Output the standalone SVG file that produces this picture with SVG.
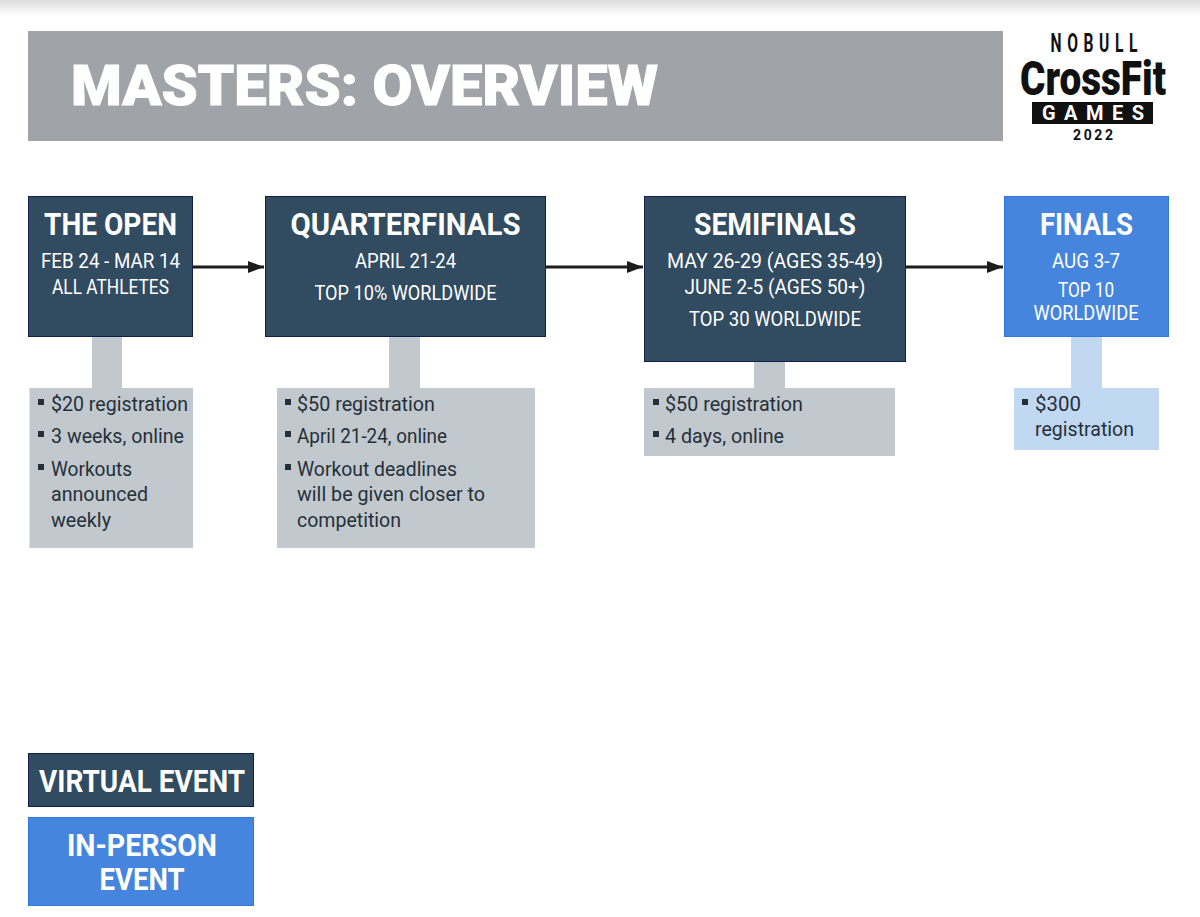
<svg xmlns="http://www.w3.org/2000/svg" width="1200" height="917" viewBox="0 0 1200 917">
<defs>
<linearGradient id="topfade" x1="0" y1="0" x2="0" y2="1"><stop offset="0" stop-color="#dcdcdc"/><stop offset="1" stop-color="#ffffff"/></linearGradient>
<marker id="arrow" markerUnits="userSpaceOnUse" markerWidth="17" markerHeight="12" refX="16" refY="6" orient="auto"><path d="M0 0L16 6L0 12Z" fill="#1c1c1c"/></marker>
</defs>
<style>
text{font-family:"Roboto","Liberation Sans",sans-serif}
.dark{fill:#314b60;stroke:#10204a;stroke-width:1}
.blue{fill:#4685de;stroke:#2f7ae0;stroke-width:1}
.grey{fill:#c1c8ce}
.lblue{fill:#c1d8f2}
.h{font-size:31px;font-weight:700;fill:#fff;text-anchor:middle}
.s{font-size:19.5px;fill:#fff;text-anchor:middle}
.b{font-size:19.5px;fill:#26303a}
.conn{stroke:#1c1c1c;stroke-width:3;fill:none;marker-end:url(#arrow)}
.bul{fill:#26303a}
.logo{fill:#111;text-anchor:middle}
</style>
<rect x="0" y="0" width="1200" height="16" fill="url(#topfade)"/>
<g id="header">
<rect x="28" y="31" width="975" height="110" fill="#a0a3a8"/>
<text x="71" y="105" font-size="56" font-weight="900" fill="#fff" stroke="#fff" stroke-width="1" textLength="587" lengthAdjust="spacingAndGlyphs">MASTERS: OVERVIEW</text>
</g>
<g id="logo">
<text class="logo" transform="translate(1094 52) scale(.6 1)" font-size="26" font-weight="700" textLength="145" lengthAdjust="spacing">NOBULL</text>
<text class="logo" x="1093" y="95" font-size="48" font-weight="900" textLength="146" lengthAdjust="spacingAndGlyphs">CrossFit</text>
<rect x="1032" y="102" width="121" height="22" fill="#111"/>
<text x="1093" y="120" font-size="20" font-weight="700" fill="#fff" text-anchor="middle" textLength="102" lengthAdjust="spacing">GAMES</text>
<text class="logo" x="1093" y="140" font-size="14" font-weight="700" textLength="40" lengthAdjust="spacing">2022</text>
</g>
<g id="connectors">
<line class="conn" x1="193" y1="267" x2="264" y2="267"/>
<line class="conn" x1="546" y1="267" x2="643" y2="267"/>
<line class="conn" x1="906" y1="267" x2="1003" y2="267"/>
</g>
<g id="open">
<rect class="grey" x="92" y="337" width="30" height="51"/>
<rect class="grey" x="29.500" y="388" width="163.500" height="160"/>
<rect class="dark" x="28.500" y="196.500" width="164" height="140"/>
<text class="h" x="110.500" y="235" textLength="133" lengthAdjust="spacingAndGlyphs">THE OPEN</text>
<text class="s" x="110.500" y="268" textLength="139" lengthAdjust="spacingAndGlyphs">FEB 24 - MAR 14</text>
<text class="s" x="110.500" y="294" textLength="117" lengthAdjust="spacingAndGlyphs">ALL ATHLETES</text>
<rect class="bul" x="38" y="399" width="6" height="6"/>
<text class="b" x="51" y="411" textLength="137" lengthAdjust="spacingAndGlyphs">$20 registration</text>
<rect class="bul" x="38" y="431" width="6" height="6"/>
<text class="b" x="51" y="443" textLength="133" lengthAdjust="spacingAndGlyphs">3 weeks, online</text>
<rect class="bul" x="38" y="464" width="6" height="6"/>
<text class="b" x="51" y="476" textLength="81" lengthAdjust="spacingAndGlyphs">Workouts</text>
<text class="b" x="51" y="501" textLength="97" lengthAdjust="spacingAndGlyphs">announced</text>
<text class="b" x="51" y="527" textLength="60" lengthAdjust="spacingAndGlyphs">weekly</text>
</g>
<g id="quarterfinals">
<rect class="grey" x="389" y="337" width="31" height="51"/>
<rect class="grey" x="277" y="388" width="258" height="160"/>
<rect class="dark" x="265.500" y="196.500" width="280" height="140"/>
<text class="h" x="405.500" y="235" textLength="230" lengthAdjust="spacingAndGlyphs">QUARTERFINALS</text>
<text class="s" x="405.500" y="268" textLength="101" lengthAdjust="spacingAndGlyphs">APRIL 21-24</text>
<text class="s" x="405.500" y="300" textLength="182" lengthAdjust="spacingAndGlyphs">TOP 10% WORLDWIDE</text>
<rect class="bul" x="285" y="399" width="6" height="6"/>
<text class="b" x="297" y="411" textLength="138" lengthAdjust="spacingAndGlyphs">$50 registration</text>
<rect class="bul" x="285" y="431" width="6" height="6"/>
<text class="b" x="297" y="443" textLength="150" lengthAdjust="spacingAndGlyphs">April 21-24, online</text>
<rect class="bul" x="285" y="464" width="6" height="6"/>
<text class="b" x="297" y="476" textLength="160" lengthAdjust="spacingAndGlyphs">Workout deadlines</text>
<text class="b" x="297" y="501" textLength="188" lengthAdjust="spacingAndGlyphs">will be given closer to</text>
<text class="b" x="297" y="527" textLength="104" lengthAdjust="spacingAndGlyphs">competition</text>
</g>
<g id="semifinals">
<rect class="grey" x="754" y="362" width="31" height="26"/>
<rect class="grey" x="644" y="388" width="251" height="68"/>
<rect class="dark" x="644.500" y="196.500" width="261" height="165"/>
<text class="h" x="775" y="235" textLength="162" lengthAdjust="spacingAndGlyphs">SEMIFINALS</text>
<text class="s" x="775" y="268" textLength="216" lengthAdjust="spacingAndGlyphs">MAY 26-29 (AGES 35-49)</text>
<text class="s" x="775" y="294" textLength="181" lengthAdjust="spacingAndGlyphs">JUNE 2-5 (AGES 50+)</text>
<text class="s" x="775" y="326" textLength="172" lengthAdjust="spacingAndGlyphs">TOP 30 WORLDWIDE</text>
<rect class="bul" x="653" y="399" width="6" height="6"/>
<text class="b" x="665" y="411" textLength="138" lengthAdjust="spacingAndGlyphs">$50 registration</text>
<rect class="bul" x="653" y="431" width="6" height="6"/>
<text class="b" x="665" y="443" textLength="119" lengthAdjust="spacingAndGlyphs">4 days, online</text>
</g>
<g id="finals">
<rect class="lblue" x="1071" y="337" width="31" height="51"/>
<rect class="lblue" x="1014" y="388" width="145" height="62"/>
<rect class="blue" x="1004.500" y="196.500" width="164" height="140"/>
<text class="h" x="1086.500" y="235" textLength="93" lengthAdjust="spacingAndGlyphs">FINALS</text>
<text class="s" x="1086" y="268" textLength="68" lengthAdjust="spacingAndGlyphs">AUG 3-7</text>
<text class="s" x="1086" y="297" textLength="56" lengthAdjust="spacingAndGlyphs">TOP 10</text>
<text class="s" x="1086" y="320" textLength="105" lengthAdjust="spacingAndGlyphs">WORLDWIDE</text>
<rect class="bul" x="1022" y="399" width="6" height="6"/>
<text class="b" x="1035" y="411" textLength="46" lengthAdjust="spacingAndGlyphs">$300</text>
<text class="b" x="1035" y="436" textLength="99" lengthAdjust="spacingAndGlyphs">registration</text>
</g>
<g id="legend-virtual">
<rect class="dark" x="28.500" y="753.500" width="225" height="53"/>
<text class="h" x="142" y="792" textLength="206" lengthAdjust="spacingAndGlyphs">VIRTUAL EVENT</text>
</g>
<g id="legend-inperson">
<rect class="blue" x="28.500" y="817.500" width="225" height="88"/>
<text class="h" x="142" y="856" textLength="150" lengthAdjust="spacingAndGlyphs">IN-PERSON</text>
<text class="h" x="142" y="890" textLength="85" lengthAdjust="spacingAndGlyphs">EVENT</text>
</g>
</svg>
